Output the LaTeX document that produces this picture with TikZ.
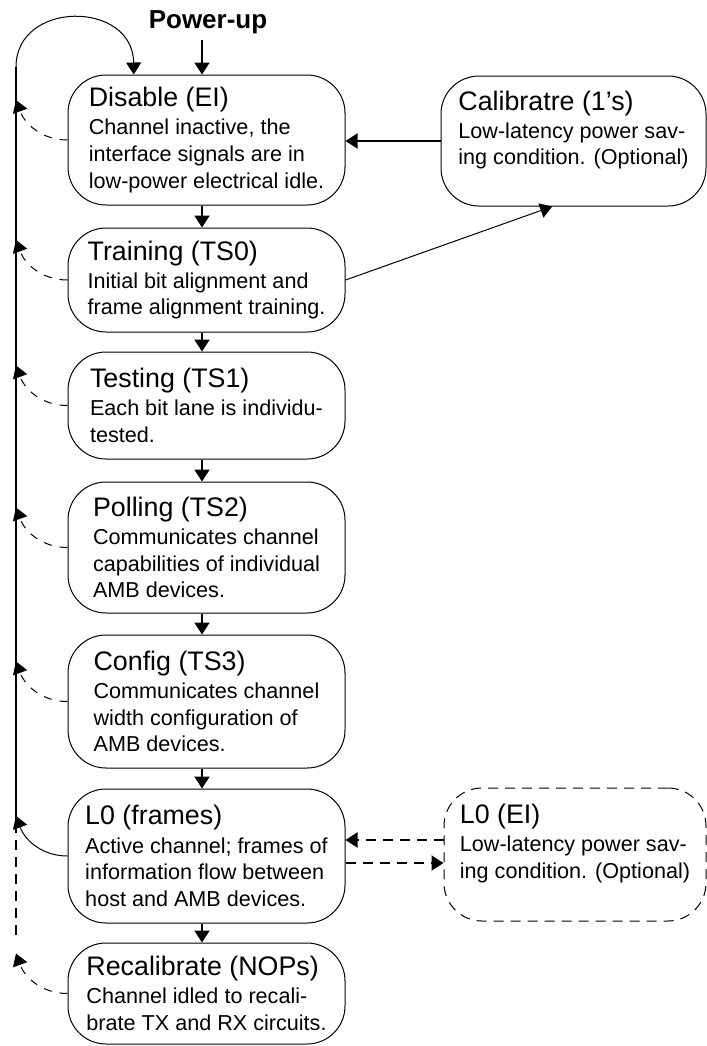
\documentclass[tikz,border=0pt]{standalone}
\usepackage{fontspec}
\setmainfont{Liberation Sans}
\usetikzlibrary{arrows.meta}

\newcommand{\stitle}[1]{{\fontsize{13.4}{14}\selectfont #1}\\[0.8pt]}

\begin{document}
\begin{tikzpicture}
  [x=0.5pt, y=0.5pt,
   >={Triangle[length=6pt,width=7.5pt]},
   state/.style={draw, line width=0.5pt, rounded corners=19pt, minimum width=138.5pt,
     align=left, inner sep=0pt, font=\fontsize{10.8}{13.3}\selectfont},
   flow/.style={->, line width=1pt},
   back/.style={->, line width=0.5pt, dash pattern=on 4pt off 4pt}]
  \useasboundingbox (0,0) rectangle (707,-1046);
  \node[font=\bfseries\fontsize{13}{14}\selectfont] (powerup) at (208,-22) {Power-up};
  \coordinate (pu) at (202,-40);
  \node[state, minimum height=65pt] (disable) at (206.5,-140)
    {\stitle{Disable (EI)}Channel inactive, the\\interface signals are in\\low-power electrical idle.};
  \node[state, minimum height=52pt] (training) at (206.5,-280)
    {\stitle{Training (TS0)}Initial bit alignment and\\frame alignment training.};
  \node[state, minimum height=53.5pt] (testing) at (206.5,-405.5)
    {\stitle{Testing (TS1)}Each bit lane is individu-\\tested.};
  \node[state, minimum height=65.5pt] (polling) at (206.5,-547.5)
    {\stitle{Polling (TS2)}Communicates channel\\capabilities of individual\\AMB devices.};
  \node[state, minimum height=66.5pt] (config) at (206.5,-701.5)
    {\stitle{Config (TS3)}Communicates channel\\width configuration of\\AMB devices.};
  \node[state, minimum height=67pt] (l0) at (206.5,-856)
    {\stitle{L0 (frames)}Active channel; frames of\\information flow between\\host and AMB devices.};
  \node[state, minimum height=50.5pt] (recal) at (206.5,-993.5)
    {\stitle{Recalibrate (NOPs)}Channel idled to recali-\\brate TX and RX circuits.};
  \node[state, minimum width=132.5pt, minimum height=65pt] (calib) at (573.5,-141)
    {\stitle{Calibratre (1’s)}Low-latency power sav-\\ing condition. (Optional)\\\mbox{}};
  \node[state, dash pattern=on 5pt off 3.5pt, minimum width=131pt, minimum height=66.5pt] (l0ei) at (575,-854.5)
    {\stitle{L0 (EI)}Low-latency power sav-\\ing condition. (Optional)\\\mbox{}};

  \coordinate (bustop) at (16,-67);
  \coordinate (busmid) at (16,-822);
  \coordinate (busbot) at (16,-935);
  \draw[line width=1pt] (busmid) -- (bustop);
  \draw[line width=1pt, dash pattern=on 5pt off 3.5pt] (busbot) -- (busmid);
  \draw[->, line width=0.5pt] (bustop) .. controls (16,0) and (133,0) .. (disable.138);

  \draw[flow] (pu) -- (disable.north -| pu);
  \foreach \a/\b in {disable/training, training/testing, testing/polling, polling/config, config/l0, l0/recal}
    \draw[flow] (\a.south -| pu) -- (\b.north -| pu);
  \foreach \s in {disable, training, testing, polling, config, recal}
    \draw[back] (\s.west) to[out=180,in=-70] ([yshift=20pt]\s.west -| bustop);
  \draw[->, line width=0.5pt] (l0.west) to[out=180,in=-70] ([yshift=20pt]l0.west -| bustop);

  \draw[flow] (calib.west) -- (calib.west -| disable.east);
  \draw[->, line width=0.5pt] (training.east) -- (calib.-108);
  \draw[flow, dash pattern=on 5pt off 3.5pt] ([yshift=7.25pt]l0ei.west) -- ([yshift=7.25pt]l0ei.west -| l0.east);
  \draw[flow, dash pattern=on 5pt off 3.5pt] ([yshift=-4.25pt]l0ei.west -| l0.east) -- ([yshift=-4.25pt]l0ei.west);
\end{tikzpicture}
\end{document}
